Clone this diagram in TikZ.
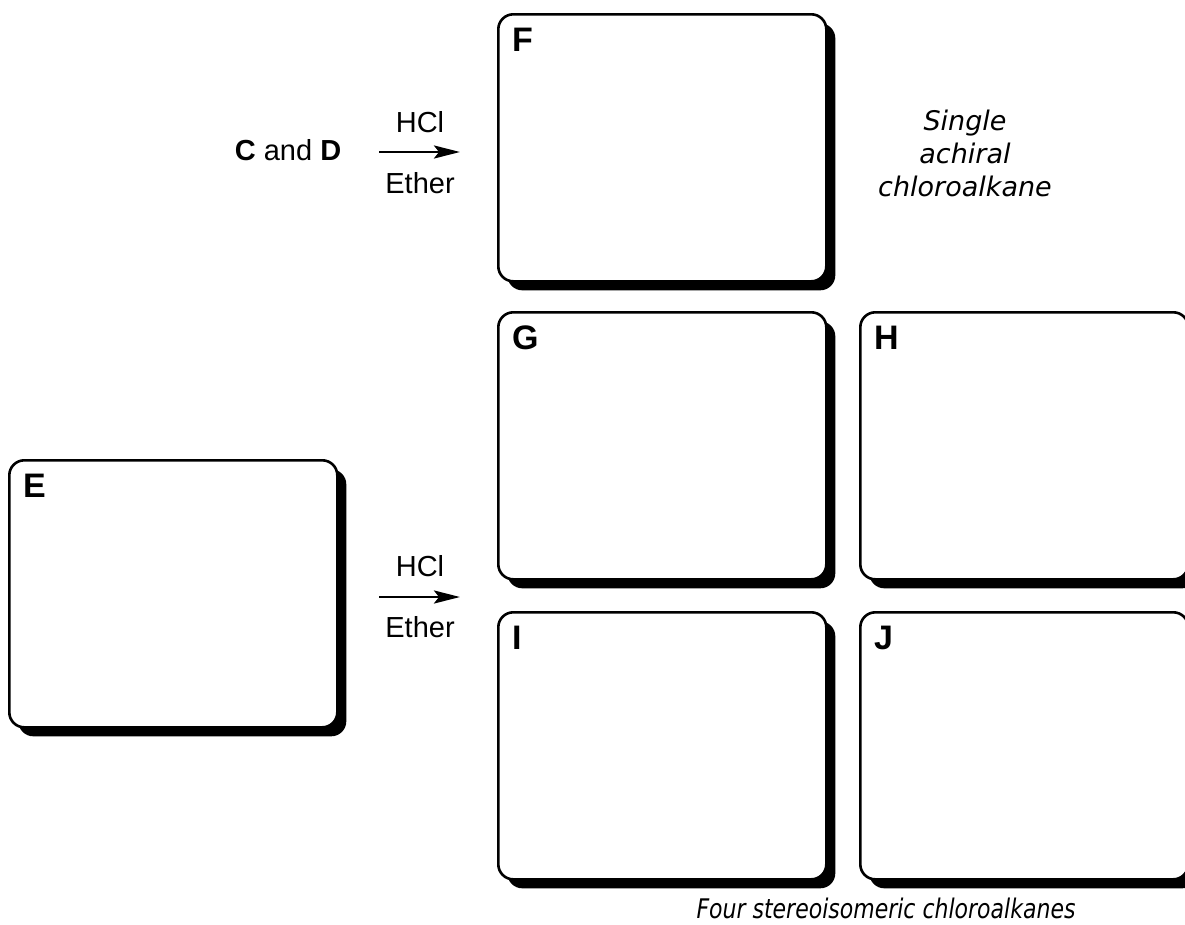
\documentclass[tikz,border=0pt]{standalone}
\usepackage{fontspec}
\usepackage{graphicx}
\setmainfont{Liberation Sans}
\newfontfamily\notefont{DejaVu Sans}
\usetikzlibrary{arrows.meta,shadows}
\begin{document}
\begin{tikzpicture}[x=1pt,y=-1pt,
  box/.style={draw=black, line width=2.6pt, fill=white, rounded corners=15pt,
    minimum width=328pt, minimum height=267pt, anchor=north west, inner sep=0pt,
    drop shadow={shadow xshift=9pt, shadow yshift=-9pt, fill=black, opacity=1}},
  lbl/.style={font=\fontsize{34}{40}\selectfont\bfseries, anchor=base west, inner sep=0pt},
  reag/.style={font=\fontsize{29}{34}\selectfont, anchor=base, inner sep=0pt},
  note/.style={font=\fontsize{27}{33}\selectfont\notefont\itshape, align=center, inner sep=0pt},
  captext/.style={font=\fontsize{27}{32}\selectfont\notefont\itshape, anchor=base, inner sep=0pt},
  rxn/.style={line width=2.8pt, -{Stealth[length=26pt,width=13pt,inset=5pt]}}]
\useasboundingbox (0,0) rectangle (1185,924);
% boxes
\node[box] (F) at (497,13) {};
\node[box] (G) at (497,311) {};
\node[box] (H) at (859,311) {};
\node[box] (I) at (497,611) {};
\node[box] (J) at (859,611) {};
\node[box] (E) at (8,459) {};
% labels
\node[lbl] (Fl) at ([xshift=15pt,yshift=-38pt]F.north west) {F};
\node[lbl] (Gl) at ([xshift=15pt,yshift=-38pt]G.north west) {G};
\node[lbl] (Hl) at ([xshift=15pt,yshift=-38pt]H.north west) {H};
\node[lbl] (Il) at ([xshift=15pt,yshift=-38pt]I.north west) {I};
\node[lbl] (Jl) at ([xshift=15pt,yshift=-38pt]J.north west) {J};
\node[lbl] (El) at ([xshift=15pt,yshift=-38pt]E.north west) {E};
% reaction 1
\node[reag] (CD) at (288,160) {\textbf{C} and \textbf{D}};
\coordinate (a1s) at (379,152);
\coordinate (a1e) at (460,152);
\draw[rxn] (a1s) -- (a1e);
\node[reag] (hcl1) at (420,132) {HCl};
\node[reag] (eth1) at (420,193) {Ether};
% reaction 2
\coordinate (a2s) at (379,597);
\coordinate (a2e) at (460,597);
\draw[rxn] (a2s) -- (a2e);
\node[reag] (hcl2) at (420,576) {HCl};
\node[reag] (eth2) at (420,637) {Ether};
% notes
\node[note] (n1) at (965,153) {Single\\achiral\\chloroalkane};
\node[captext] (n2) at (886,918) {\scalebox{0.815}[1]{Four stereoisomeric chloroalkanes}};
\end{tikzpicture}
\end{document}
